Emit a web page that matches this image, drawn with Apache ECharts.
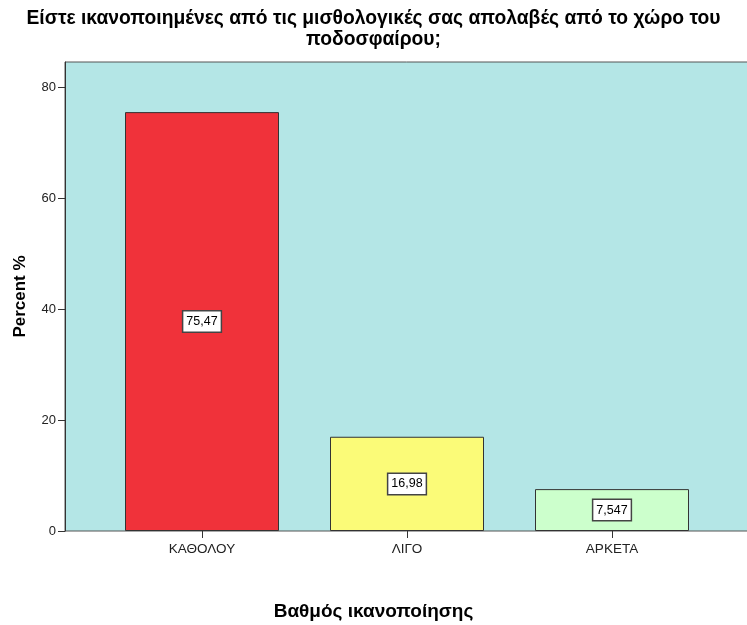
<!DOCTYPE html>
<html><head><meta charset="utf-8">
<script src="https://cdn.jsdelivr.net/npm/echarts@6/dist/echarts.min.js"></script>
<style>html,body{margin:0;padding:0;background:#fff}#c{width:747px;height:625px}</style>
</head><body><div id="c"></div>
<script>
const categories = ['ΚΑΘΟΛΟΥ', 'ΛΙΓΟ', 'ΑΡΚΕΤΑ'];
const percents = [75.47, 16.98, 7.547];
const barColors = ['#f0323a', '#fbfb78', '#ccffcc'];
const yTicks = [0, 20, 40, 60, 80];
const titleText = 'Είστε ικανοποιημένες από τις μισθολογικές σας απολαβές από το χώρο του\nποδοσφαίρου;';
const xName = 'Βαθμός ικανοποίησης';
const yName = 'Percent %';

const chart = echarts.init(document.getElementById('c'));
const font = 'Liberation Sans, Arial, sans-serif';
chart.setOption({
  animation: false,
  title: [{
    text: titleText, left: 'center', top: 3,
    textStyle: {fontFamily: font, fontSize: 19.3, fontWeight: 'bold', color: '#000', lineHeight: 21}
  }, {
    text: xName, left: 'center', top: 597,
    textStyle: {fontFamily: font, fontSize: 19, fontWeight: 'bold', color: '#000'}
  }],
  grid: [
    {left: 65, right: -2, top: 62, bottom: 94, show: true, backgroundColor: '#b4e6e6', borderColor: '#555', borderWidth: 1, outerBoundsMode: 'none', containLabel: false},
    {left: 99.5, right: 32.5, top: 62, bottom: 94, outerBoundsMode: 'none', containLabel: false}
  ],
  xAxis: [
    {gridIndex: 0, type: 'value', min: 0, max: 1, show: false},
    {gridIndex: 1, type: 'category', data: categories, boundaryGap: true,
     axisLine: {show: false},
     axisTick: {show: true, alignWithLabel: true, length: 7, lineStyle: {color: '#333'}},
     axisLabel: {fontFamily: font, fontSize: 13.5, color: '#222', margin: 11}}
  ],
  yAxis: [
    {gridIndex: 0, type: 'value', min: 0, max: 84.5,
     axisLine: {show: true, lineStyle: {color: '#333'}},
     axisTick: {show: true, length: 7, customValues: yTicks, lineStyle: {color: '#333'}},
     axisLabel: {customValues: yTicks, fontFamily: font, fontSize: 13, color: '#222', margin: 9},
     splitLine: {show: false},
     name: yName, nameLocation: 'middle', nameGap: 36, nameRotate: 90,
     nameTextStyle: {fontFamily: font, fontSize: 17, fontWeight: 'bold', color: '#000'}},
    {gridIndex: 1, type: 'value', min: 0, max: 84.5, show: false}
  ],
  series: [{
    type: 'bar', xAxisIndex: 1, yAxisIndex: 1, barWidth: 154,
    data: percents.map((v, i) => ({value: v, itemStyle: {color: barColors[i]}})),
    itemStyle: {borderColor: '#333', borderWidth: 1},
    label: {
      show: true, position: 'inside',
      formatter: p => String(p.value).replace('.', ','),
      fontFamily: font, fontSize: 12.5, color: '#000',
      backgroundColor: '#fff', borderColor: '#444', borderWidth: 1.5, padding: [4, 3, 3, 3]
    }
  }]
});
</script></body></html>
